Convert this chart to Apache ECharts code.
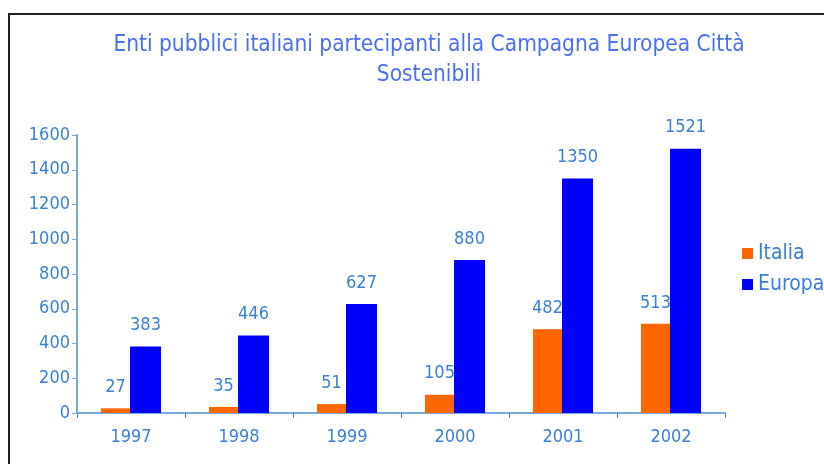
<!DOCTYPE html>
<html>
<head>
<meta charset="utf-8">
<script src="https://cdn.jsdelivr.net/npm/echarts@6/dist/echarts.min.js"></script>
<style>
  html, body { margin: 0; padding: 0; background: #fff; }
  #chart { width: 824px; height: 464px; }
</style>
</head>
<body>
<div id="chart"></div>
<script>
var anni = ['1997', '1998', '1999', '2000', '2001', '2002']
var italia = [27, 35, 51, 105, 482, 513]
var europa = [383, 446, 627, 880, 1350, 1521]

var font = '"DejaVu Sans Condensed", "Liberation Sans Narrow", sans-serif'
var txtBlue = '#3a80d6'
var axisBlue = '#78a9e0'

var myChart = echarts.init(document.getElementById('chart'))

myChart.setOption({
  animation: false,
  textStyle: { fontFamily: font },
  title: {
    text: 'Enti pubblici italiani partecipanti alla Campagna Europea Città\nSostenibili',
    left: 424,
    textAlign: 'center',
    top: 25,
    textStyle: {
      color: '#4a70f0',
      fontFamily: font,
      fontWeight: 'normal',
      fontSize: 22.5,
      lineHeight: 30
    }
  },
  graphic: [
    {
      type: 'rect',
      shape: { x: 9, y: 14, width: 900, height: 500 },
      style: { fill: 'none', stroke: '#222', lineWidth: 2 },
      silent: true
    }
  ],
  legend: {
    orient: 'vertical',
    left: 737,
    top: 238,
    itemWidth: 11,
    itemHeight: 11,
    itemGap: 10,
    icon: 'rect',
    textStyle: { color: txtBlue, fontSize: 21, fontFamily: font },
    data: ['Italia', 'Europa']
  },
  grid: { left: 77, right: 99, top: 135, bottom: 51 },
  xAxis: {
    type: 'category',
    data: anni,
    axisLine: { lineStyle: { color: axisBlue, width: 2 } },
    axisTick: { show: true, length: 5, lineStyle: { color: '#3a80d6' } },
    axisLabel: { color: txtBlue, fontSize: 18, margin: 15, fontFamily: font }
  },
  yAxis: {
    type: 'value',
    min: 0,
    max: 1600,
    interval: 200,
    axisLine: { show: true, lineStyle: { color: axisBlue, width: 2 } },
    axisTick: { show: true, length: 5, lineStyle: { color: axisBlue } },
    splitLine: { show: false },
    axisLabel: {
      color: txtBlue, fontSize: 18, margin: 7, fontFamily: font,
      formatter: function (v) { return String(v) }
    }
  },
  series: [
    {
      name: 'Italia',
      type: 'bar',
      data: italia,
      barWidth: 29,
      barGap: '0%',
      itemStyle: { color: '#ff6600' },
      label: { show: true, position: 'top', distance: 12, color: txtBlue, fontSize: 18, fontFamily: font }
    },
    {
      name: 'Europa',
      type: 'bar',
      data: europa,
      barWidth: 31,
      barGap: '0%',
      itemStyle: { color: '#0000ff' },
      label: { show: true, position: 'top', distance: 12, color: txtBlue, fontSize: 18, fontFamily: font }
    }
  ]
})
</script>
</body>
</html>
